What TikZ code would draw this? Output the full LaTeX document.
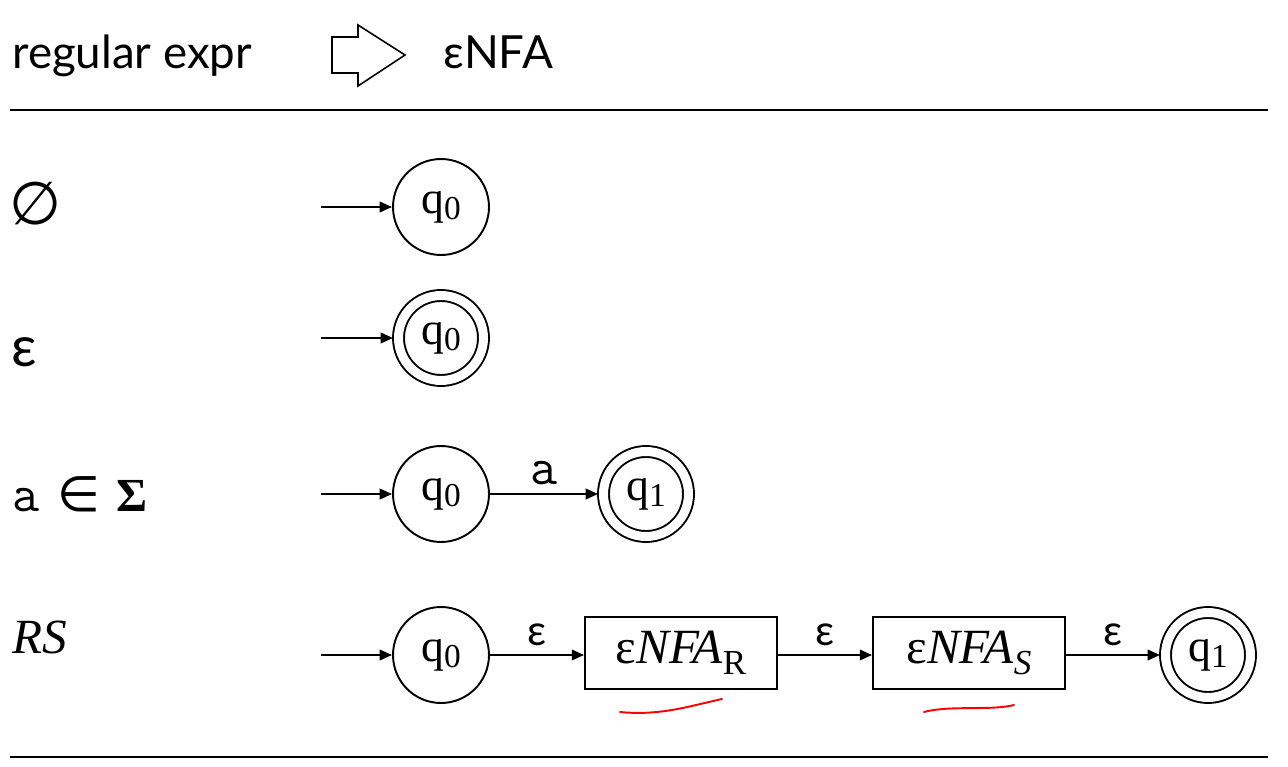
\documentclass[tikz,border=0pt]{standalone}
\usepackage{amssymb}
\usepackage{fontspec}
\setmainfont{Liberation Serif}
\setsansfont{Lato}
\newfontfamily\symfont{DejaVu Sans}
\usetikzlibrary{arrows.meta}

\newcommand{\qs}[1]{q\raisebox{-0.3ex}{\fontsize{19}{19}\selectfont #1}}
\newcommand{\nfa}[1]{ε\textit{NFA}\raisebox{-0.5ex}{\fontsize{20}{20}\selectfont #1}}

\tikzset{
  state/.style={circle, draw, line width=1.1pt, minimum size=1.92cm, inner sep=0pt,
    font=\fontsize{26}{26}\selectfont},
  accept/.style={state, double, double distance=0.18cm, minimum size=1.7cm, outer sep=0.11cm},
  machine/.style={draw, line width=1.1pt, minimum width=3.84cm, minimum height=1.44cm,
    font=\fontsize{28}{28}\selectfont},
  edge/.style={line width=1.1pt, -{Triangle[length=7pt,width=6pt]}},
  eps/.style={midway, above=0.16cm, inner sep=0pt, font=\sffamily\fontsize{24}{24}\selectfont},
  expr/.style={anchor=west, inner sep=0pt},
  head/.style={anchor=west, inner sep=0pt, font=\sffamily\fontsize{26}{26}\selectfont}
}

\begin{document}
\begin{tikzpicture}[x=0.02cm, y=-0.02cm]
\useasboundingbox (0,0) rectangle (1288,767);

% heading
\node[head] (re) at (12,56) {regular expr};
\node[head] (en) at (443,52) {εNFA};
\draw[line width=0.9pt] (332,37) -- (358,37) -- (358,25) -- (405,55) -- (358,86)
  -- (358,73) -- (332,73) -- cycle;
\draw[line width=1.1pt] (10,110) -- (1268,110);
\draw[line width=1.1pt] (10,757) -- (1268,757);

% empty set
\node[expr, font=\symfont\fontsize{34}{34}\selectfont] (x1) at (9,204) {∅};
\coordinate (s1) at (321,207);
\node[state] (e0) at (441,207) {\qs{0}};
\draw[edge] (s1) -- (e0);

% epsilon
\node[expr, font=\sffamily\fontsize{32}{32}\selectfont] (x2) at (11,352) {ε};
\coordinate (s2) at (321,338);
\node[accept] (p0) at (441,338) {\qs{0}};
\draw[edge] (s2) -- (p0);

% single symbol
\node[expr, font=\fontsize{30}{30}\selectfont] (x3) at (12,494)
  {\texttt{a}\hspace{0.35em}{\symfont\fontsize{28}{28}\selectfont ∈}\hspace{0.3em}{\fontsize{27}{27}\selectfont\textbf{Σ}}};
\coordinate (s3) at (321,494);
\node[state] (a0) at (441,494) {\qs{0}};
\node[accept] (a1) at (646,494) {\qs{1}};
\draw[edge] (s3) -- (a0);
\draw[edge] (a0) -- node[eps, font=\ttfamily\fontsize{30}{30}\selectfont] {a} (a1);

% concatenation
\node[expr, font=\itshape\fontsize{28}{28}\selectfont] (x4) at (12,637) {RS};
\coordinate (s4) at (321,655);
\node[state] (c0) at (441,655) {\qs{0}};
\node[machine] (mr) at (681,653) {\nfa{R}};
\node[machine] (ms) at (969,653) {\nfa{\textit{S}}};
\node[accept] (c1) at (1208,655) {\qs{1}};
\draw[edge] (s4) -- (c0);
\draw[edge] (c0) -- node[eps] {ε} (c0 -| mr.west);
\draw[edge] (mr.east |- c0) -- node[eps] {ε} (ms.west |- c0);
\draw[edge] (ms.east |- c0) -- node[eps] {ε} (c1);

% hand-drawn marks
\draw[red, line width=1.1pt, line cap=round] (620,712) .. controls (660,716) and (690,706) .. (722,699);
\draw[red, line width=1.1pt, line cap=round] (924,712) .. controls (950,705) and (990,711) .. (1014,705);
\end{tikzpicture}
\end{document}
